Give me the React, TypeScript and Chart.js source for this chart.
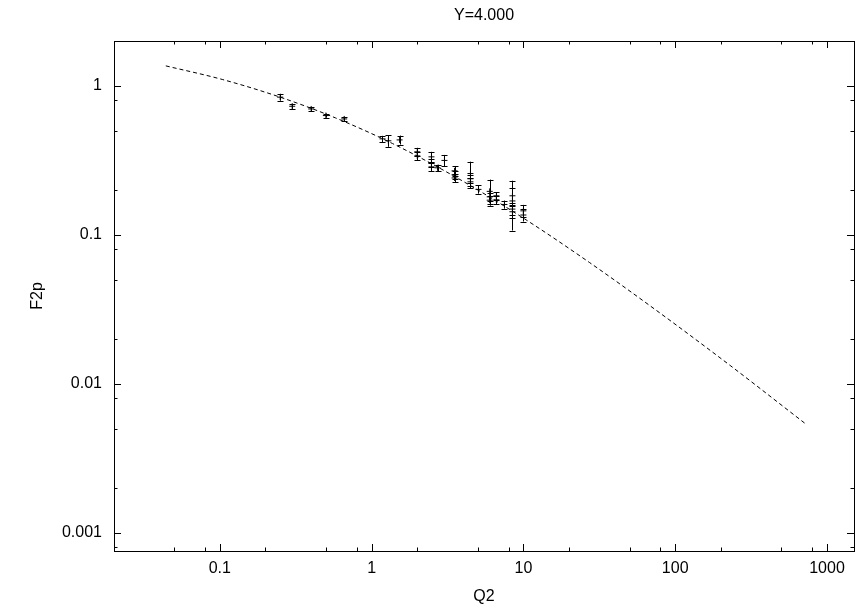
import React, { useEffect, useRef } from 'react';
import { Chart, registerables } from 'chart.js';

Chart.register(...registerables);

const chartTitle = 'Y=4.000';
const xAxisTitle = 'Q2';
const yAxisTitle = 'F2p';

const xRange = [0.0201, 1506];
const yRange = [0.000757, 2.0];

const xMajorTicks = [0.1, 1, 10, 100, 1000];
const xTickLabels = ['0.1', '1', '10', '100', '1000'];
const yMajorTicks = [0.001, 0.01, 0.1, 1];
const yTickLabels = ['0.001', '0.01', '0.1', '1'];
const minorMantissas = [2, 5, 8];

// fitted curve (dashed)
const curveQ2 = [0.0441, 0.1046, 0.2481, 0.5797, 1.375, 3.68, 10, 27.18, 72.8, 230.0, 724.3];
const curveF2p = [1.362, 1.102, 0.842, 0.609, 0.41, 0.2405, 0.1296, 0.0654, 0.0319, 0.01331, 0.00539];

// measured points with errors
const dataQ2 = [0.25, 0.30, 0.40, 0.50, 0.66, 1.18, 1.29, 1.53, 2.0, 2.0, 2.48, 2.48, 2.48, 2.72, 3.02, 3.52, 3.52, 3.52, 4.48, 4.48, 4.48, 5.06, 6.0, 6.0, 6.0, 6.64, 6.64, 7.5, 8.47, 8.47, 8.47, 8.47, 10.0, 10.0];
const dataF2p = [0.84, 0.73, 0.70, 0.632, 0.60, 0.441, 0.428, 0.434, 0.361, 0.339, 0.334, 0.304, 0.286, 0.282, 0.316, 0.269, 0.253, 0.241, 0.258, 0.238, 0.227, 0.202, 0.196, 0.180, 0.171, 0.183, 0.172, 0.160, 0.169, 0.183, 0.149, 0.143, 0.145, 0.136];
const dataErr = [0.045, 0.028, 0.022, 0.02, 0.02, 0.02, 0.038, 0.03, 0.023, 0.021, 0.027, 0.02, 0.019, 0.014, 0.028, 0.021, 0.016, 0.015, 0.052, 0.015, 0.014, 0.013, 0.039, 0.011, 0.011, 0.011, 0.011, 0.01, 0.062, 0.024, 0.014, 0.013, 0.014, 0.013];

const FONT = '"Liberation Sans", Arial, Helvetica, sans-serif';
const FONT_SIZE = 16;

function buildLogTicks(min: number, max: number) {
  const out: { value: number; major: boolean }[] = [];
  const e0 = Math.floor(Math.log10(min)) - 1;
  const e1 = Math.ceil(Math.log10(max)) + 1;
  for (let e = e0; e <= e1; e++) {
    for (const m of [1, ...minorMantissas]) {
      const v = m * Math.pow(10, e);
      if (v > min * 1.001 && v < max * 0.999) out.push({ value: v, major: m === 1 });
    }
  }
  return out;
}

function labelFor(value: number, majors: number[], labels: string[]) {
  const i = majors.findIndex((v) => Math.abs(v - value) / v < 1e-6);
  return i >= 0 ? labels[i] : '';
}

const gnuplotFrame = {
  id: 'gnuplotFrame',
  afterDatasetsDraw(chart: any) {
    const ctx = chart.ctx;
    const { left, right, top, bottom } = chart.chartArea;
    const xs = chart.scales.x;
    const ys = chart.scales.y;
    ctx.save();
    ctx.strokeStyle = '#000';
    ctx.lineWidth = 1;
    ctx.setLineDash([]);

    // error bars
    const meta = chart.getDatasetMeta(1);
    meta.data.forEach((pt: any, i: number) => {
      const px = Math.round(xs.getPixelForValue(dataQ2[i])) + 0.5;
      const yHi = ys.getPixelForValue(dataF2p[i] + dataErr[i]);
      const yLo = ys.getPixelForValue(dataF2p[i] - dataErr[i]);
      ctx.beginPath();
      ctx.moveTo(px, yHi);
      ctx.lineTo(px, yLo);
      ctx.moveTo(px - 3, Math.round(yHi) + 0.5);
      ctx.lineTo(px + 3, Math.round(yHi) + 0.5);
      ctx.moveTo(px - 3, Math.round(yLo) + 0.5);
      ctx.lineTo(px + 3, Math.round(yLo) + 0.5);
      ctx.stroke();
    });

    // frame
    ctx.strokeRect(left + 0.5, top + 0.5, right - left, bottom - top);

    // ticks (inward, mirrored)
    ctx.beginPath();
    xs.ticks.forEach((t: any) => {
      const px = Math.round(xs.getPixelForValue(t.value)) + 0.5;
      const len = t.major ? 7 : 3.5;
      ctx.moveTo(px, bottom);
      ctx.lineTo(px, bottom - len);
      ctx.moveTo(px, top);
      ctx.lineTo(px, top + len);
    });
    ys.ticks.forEach((t: any) => {
      const py = Math.round(ys.getPixelForValue(t.value)) + 0.5;
      const len = t.major ? 7 : 3.5;
      ctx.moveTo(left, py);
      ctx.lineTo(left + len, py);
      ctx.moveTo(right, py);
      ctx.lineTo(right - len, py);
    });
    ctx.stroke();
    ctx.restore();
  },
};

export default function App() {
  const ref = useRef<HTMLCanvasElement | null>(null);

  useEffect(() => {
    if (!ref.current) return;
    const chart = new Chart(ref.current, {
      type: 'scatter',
      data: {
        datasets: [
          {
            label: 'fit',
            data: curveQ2.map((q, i) => ({ x: q, y: curveF2p[i] })),
            showLine: true,
            borderColor: '#000',
            borderWidth: 1,
            borderDash: [4, 3],
            pointRadius: 0,
            cubicInterpolationMode: 'monotone',
            fill: false,
          } as any,
          {
            label: 'data',
            data: dataQ2.map((q, i) => ({ x: q, y: dataF2p[i] })),
            showLine: false,
            pointStyle: 'cross',
            pointRadius: 3,
            borderColor: '#000',
            backgroundColor: '#000',
            borderWidth: 1,
          } as any,
        ],
      },
      options: {
        animation: false,
        responsive: false,
        maintainAspectRatio: false,
        layout: { padding: { left: 0, right: 4, top: 0, bottom: 0 } },
        plugins: {
          legend: { display: false },
          tooltip: { enabled: false },
          title: { display: false },
        },
        scales: {
          x: {
            type: 'logarithmic',
            position: 'bottom',
            min: xRange[0],
            max: xRange[1],
            afterBuildTicks: (s: any) => {
              s.ticks = buildLogTicks(s.min, s.max);
            },
            afterFit: (s: any) => {
              s.height = 56;
            },
            grid: { display: false, drawTicks: false },
            border: { display: false },
            ticks: {
              autoSkip: false,
              maxRotation: 0,
              padding: 8,
              color: '#000',
              font: { family: FONT, size: FONT_SIZE },
              callback: (v: any) => labelFor(Number(v), xMajorTicks, xTickLabels),
            },
            title: {
              display: true,
              text: xAxisTitle,
              color: '#000',
              font: { family: FONT, size: FONT_SIZE },
              padding: { top: 0, bottom: 1 },
            },
          },
          xTop: {
            type: 'linear',
            position: 'top',
            min: 0,
            max: 1,
            afterFit: (s: any) => {
              s.height = 41;
            },
            grid: { display: false, drawTicks: false },
            border: { display: false },
            ticks: { display: false },
            title: {
              display: true,
              text: chartTitle,
              color: '#000',
              font: { family: FONT, size: FONT_SIZE },
              padding: { top: 6, bottom: 0 },
            },
          },
          y: {
            type: 'logarithmic',
            position: 'left',
            min: yRange[0],
            max: yRange[1],
            afterBuildTicks: (s: any) => {
              s.ticks = buildLogTicks(s.min, s.max);
            },
            afterFit: (s: any) => {
              s.width = 114;
            },
            grid: { display: false, drawTicks: false },
            border: { display: false },
            ticks: {
              autoSkip: false,
              padding: 12,
              color: '#000',
              font: { family: FONT, size: FONT_SIZE },
              callback: (v: any) => labelFor(Number(v), yMajorTicks, yTickLabels),
            },
            title: {
              display: true,
              text: yAxisTitle,
              color: '#000',
              font: { family: FONT, size: FONT_SIZE },
              padding: { top: 28, bottom: 0 },
            },
          },
        },
      } as any,
      plugins: [gnuplotFrame],
    });
    return () => chart.destroy();
  }, []);

  return (
    <div style={{ position: 'absolute', left: 0, top: 0, width: 859, height: 607, background: '#fff' }}>
      <canvas ref={ref} width={859} height={607} style={{ display: 'block' }} />
    </div>
  );
}
